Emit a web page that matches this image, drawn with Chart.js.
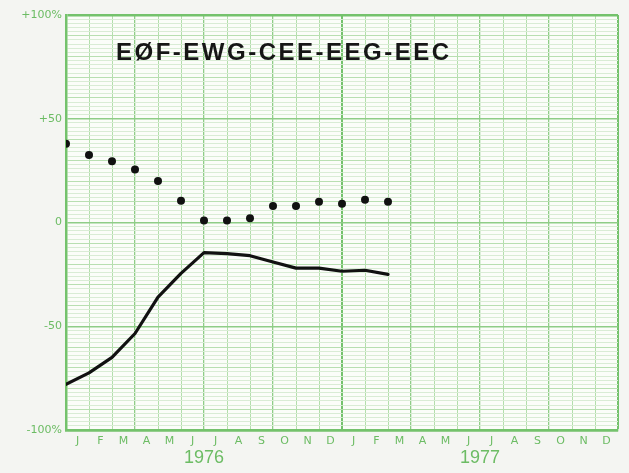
<!DOCTYPE html>
<html>
<head>
<meta charset="utf-8">
<script src="https://cdn.jsdelivr.net/npm/chart.js@4"></script>
<style>
  html, body { margin: 0; padding: 0; background: #f4f5f2; }
  #wrap { width: 629px; height: 473px; }
</style>
</head>
<body>
<div id="wrap"><canvas id="graf"></canvas></div>
<script>
// Data
const months = ['J','F','M','A','M','J','J','A','S','O','N','D','J','F','M','A','M','J','J','A','S','O','N','D'];
const years = ['1976', '1977'];
const yearTicks = [6, 18];
const dotValues = [38, 32.5, 29.5, 25.5, 20, 10.5, 1, 1, 2, 8, 8, 10, 9, 11, 10];
const lineValues = [-78, -72.5, -65, -53.5, -36, -24.5, -14.5, -15, -16, -19, -22, -22, -23.5, -23, -25];
const yLabels = { '100': '+100%', '50': '+50', '0': '0', '-50': '-50', '-100': '-100%' };
const titleText = 'EØF-EWG-CEE-EEG-EEC';

const green = '#74c26c';
const greenText = '#6cbc64';

// fond + titre
const paper = {
    id: 'paper',
    beforeDraw(chart) {
        const { ctx, chartArea: a } = chart;
        ctx.save();
        ctx.fillStyle = '#fbfdf9';
        ctx.fillRect(a.left, a.top, a.right - a.left, a.bottom - a.top);
        ctx.restore();
    },
    afterDatasetsDraw(chart) {
        const { ctx, chartArea: a } = chart;
        ctx.save();
        ctx.font = 'bold 24px "Liberation Sans", Arial, sans-serif';
        ctx.letterSpacing = '2.5px';
        ctx.fillStyle = '#161616';
        ctx.textBaseline = 'alphabetic';
        ctx.fillText(titleText, a.left + 50, a.top + 45);
        ctx.restore();
    }
};

const xs = v => v.map((y, i) => ({ x: i, y: y }));

new Chart(document.getElementById('graf'), {
    type: 'line',
    data: {
        datasets: [
            {
                label: 'points',
                data: xs(dotValues),
                showLine: false,
                pointRadius: 4,
                pointBackgroundColor: '#111',
                pointBorderWidth: 0
            },
            {
                label: 'courbe',
                data: xs(lineValues),
                borderColor: '#111',
                borderWidth: 3.2,
                pointRadius: 0,
                tension: 0,
                borderCapStyle: 'round',
                borderJoinStyle: 'round'
            }
        ]
    },
    plugins: [paper],
    options: {
        responsive: true,
        maintainAspectRatio: false,
        animation: false,
        layout: { padding: { top: 15, right: 11, left: 0, bottom: 0 } },
        plugins: { legend: { display: false }, tooltip: { enabled: false } },
        scales: {
            x: {
                type: 'linear', position: 'bottom', weight: 0,
                min: 0, max: 24,
                ticks: { display: false, stepSize: 1, maxTicksLimit: 100 },
                grid: {
                    drawTicks: false,
                    color: c => {
                        const v = c.tick.value;
                        if (v === 12 || v === 24) return green;
                        return v % 3 === 0 ? '#8fcd87' : '#b3deac';
                    },
                    lineWidth: c => (c.tick.value === 12 || c.tick.value === 24) ? 2 : (c.tick.value % 3 === 0 ? 1.3 : 1)
                },
                border: { color: green, width: 2.5 },
                afterFit: s => { s.height = 0; }
            },
            mois: {
                type: 'linear', position: 'bottom', weight: 1,
                min: 0, max: 24,
                afterBuildTicks: s => { s.ticks = months.map((m, i) => ({ value: i + 0.5 })); },
                ticks: {
                    autoSkip: false, maxRotation: 0, padding: 5,
                    color: greenText,
                    font: { family: '"DejaVu Sans", sans-serif', size: 11 },
                    callback: (v, i) => months[i]
                },
                grid: { display: false, drawTicks: false },
                border: { display: false },
                afterFit: s => { s.height = 17; }
            },
            annee: {
                type: 'linear', position: 'bottom', weight: 2,
                min: 0, max: 24,
                afterBuildTicks: s => { s.ticks = yearTicks.map(v => ({ value: v })); },
                ticks: {
                    autoSkip: false, maxRotation: 0, padding: 0,
                    color: greenText,
                    font: { family: '"Liberation Sans", Arial, sans-serif', size: 18 },
                    callback: (v, i) => years[i]
                },
                grid: { display: false, drawTicks: false },
                border: { display: false },
                afterFit: s => { s.height = 26; }
            },
            y: {
                type: 'linear', min: -100, max: 100,
                ticks: {
                    stepSize: 2, autoSkip: false, maxTicksLimit: 1000, padding: 4,
                    color: greenText,
                    font: { family: '"DejaVu Sans", sans-serif', size: 11 },
                    callback: v => yLabels[String(v)] || ''
                },
                grid: {
                    drawTicks: false,
                    color: c => {
                        const v = c.tick.value;
                        if (Math.abs(v) === 100) return green;
                        if (v % 50 === 0) return '#8fcd87';
                        if (v % 10 === 0) return '#b8dfb1';
                        return '#d9ecd5';
                    },
                    lineWidth: c => {
                        const v = c.tick.value;
                        if (Math.abs(v) === 100) return 2.5;
                        if (v % 50 === 0) return 1.5;
                        return 1;
                    }
                },
                border: { color: green, width: 2.5 },
                afterFit: s => { s.width = 66; }
            }
        }
    }
});
</script>
</body>
</html>
